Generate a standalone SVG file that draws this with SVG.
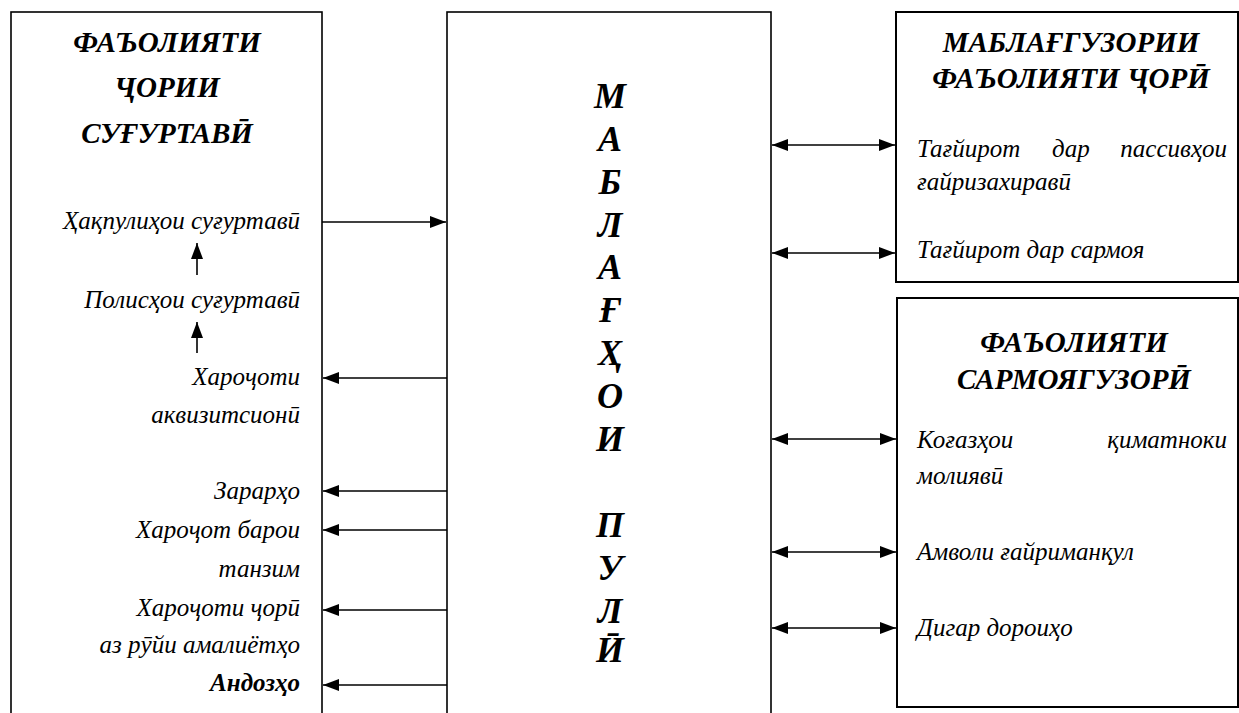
<svg xmlns="http://www.w3.org/2000/svg" width="1239" height="713" viewBox="0 0 1239 713">
<defs>
<marker id="ah" viewBox="0 0 16 12" refX="16" refY="6" markerWidth="16" markerHeight="12" markerUnits="userSpaceOnUse" orient="auto-start-reverse">
<path d="M0,0 L16,6 L0,12 Z" fill="#000"/>
</marker>
</defs>
<rect x="0" y="0" width="1239" height="713" fill="#fff"/>

<g id="node-left">
<rect x="11" y="12" width="311" height="740" fill="#fff" stroke="#000" stroke-width="1.6"/>
<text font-family="Liberation Serif" font-style="italic" font-weight="bold" font-size="29" text-anchor="middle" x="167" y="52">ФАЪОЛИЯТИ</text>
<text font-family="Liberation Serif" font-style="italic" font-weight="bold" font-size="29" text-anchor="middle" x="167" y="97">ҶОРИИ</text>
<text font-family="Liberation Serif" font-style="italic" font-weight="bold" font-size="29" text-anchor="middle" x="167" y="143">СУҒУРТАВӢ</text>
<text font-family="Liberation Serif" font-style="italic" font-size="25" text-anchor="end" x="300" y="229">Ҳақпулиҳои суғуртавӣ</text>
<text font-family="Liberation Serif" font-style="italic" font-size="25" text-anchor="end" x="300" y="308">Полисҳои суғуртавӣ</text>
<text font-family="Liberation Serif" font-style="italic" font-size="25" text-anchor="end" x="300" y="385">Хароҷоти</text>
<text font-family="Liberation Serif" font-style="italic" font-size="25" text-anchor="end" x="300" y="423">аквизитсионӣ</text>
<text font-family="Liberation Serif" font-style="italic" font-size="25" text-anchor="end" x="300" y="499">Зарарҳо</text>
<text font-family="Liberation Serif" font-style="italic" font-size="25" text-anchor="end" x="300" y="538">Хароҷот барои</text>
<text font-family="Liberation Serif" font-style="italic" font-size="25" text-anchor="end" x="300" y="577">танзим</text>
<text font-family="Liberation Serif" font-style="italic" font-size="25" text-anchor="end" x="300" y="616">Хароҷоти ҷорӣ</text>
<text font-family="Liberation Serif" font-style="italic" font-size="25" text-anchor="end" x="300" y="653">аз рӯйи амалиётҳо</text>
<text font-family="Liberation Serif" font-style="italic" font-weight="bold" font-size="25" text-anchor="end" x="300" y="691">Андозҳо</text>
</g>

<g id="node-middle">
<rect x="447" y="12" width="324" height="740" fill="#fff" stroke="#000" stroke-width="1.6"/>
<text font-family="Liberation Serif" font-style="italic" font-weight="bold" font-size="36" text-anchor="middle" x="610" y="108">М</text>
<text font-family="Liberation Serif" font-style="italic" font-weight="bold" font-size="36" text-anchor="middle" x="610" y="151">А</text>
<text font-family="Liberation Serif" font-style="italic" font-weight="bold" font-size="36" text-anchor="middle" x="610" y="194">Б</text>
<text font-family="Liberation Serif" font-style="italic" font-weight="bold" font-size="36" text-anchor="middle" x="610" y="237">Л</text>
<text font-family="Liberation Serif" font-style="italic" font-weight="bold" font-size="36" text-anchor="middle" x="610" y="279">А</text>
<text font-family="Liberation Serif" font-style="italic" font-weight="bold" font-size="36" text-anchor="middle" x="610" y="322">Ғ</text>
<text font-family="Liberation Serif" font-style="italic" font-weight="bold" font-size="36" text-anchor="middle" x="610" y="365">Ҳ</text>
<text font-family="Liberation Serif" font-style="italic" font-weight="bold" font-size="36" text-anchor="middle" x="610" y="408">О</text>
<text font-family="Liberation Serif" font-style="italic" font-weight="bold" font-size="36" text-anchor="middle" x="610" y="451">И</text>
<text font-family="Liberation Serif" font-style="italic" font-weight="bold" font-size="36" text-anchor="middle" x="610" y="537">П</text>
<text font-family="Liberation Serif" font-style="italic" font-weight="bold" font-size="36" text-anchor="middle" x="610" y="580">У</text>
<text font-family="Liberation Serif" font-style="italic" font-weight="bold" font-size="36" text-anchor="middle" x="610" y="623">Л</text>
<text font-family="Liberation Serif" font-style="italic" font-weight="bold" font-size="36" text-anchor="middle" x="610" y="662">Ӣ</text>
</g>

<g id="node-financing">
<rect x="896" y="12" width="342" height="270" fill="#fff" stroke="#000" stroke-width="2"/>
<text font-family="Liberation Serif" font-style="italic" font-weight="bold" font-size="29" text-anchor="middle" x="1071" y="52">МАБЛАҒГУЗОРИИ</text>
<text font-family="Liberation Serif" font-style="italic" font-weight="bold" font-size="29" text-anchor="middle" x="1071" y="88">ФАЪОЛИЯТИ ҶОРӢ</text>
<text font-family="Liberation Serif" font-style="italic" font-size="25" x="917" y="157">Тағйирот</text>
<text font-family="Liberation Serif" font-style="italic" font-size="25" x="1052" y="157">дар</text>
<text font-family="Liberation Serif" font-style="italic" font-size="25" text-anchor="end" x="1227" y="157">пассивҳои</text>
<text font-family="Liberation Serif" font-style="italic" font-size="25" x="917" y="190">ғайризахиравӣ</text>
<text font-family="Liberation Serif" font-style="italic" font-size="25" x="917" y="258">Тағйирот дар сармоя</text>
</g>

<g id="node-investment">
<rect x="897" y="298" width="341" height="409" fill="#fff" stroke="#000" stroke-width="2"/>
<text font-family="Liberation Serif" font-style="italic" font-weight="bold" font-size="29" text-anchor="middle" x="1074" y="352">ФАЪОЛИЯТИ</text>
<text font-family="Liberation Serif" font-style="italic" font-weight="bold" font-size="29" text-anchor="middle" x="1074" y="389">САРМОЯГУЗОРӢ</text>
<text font-family="Liberation Serif" font-style="italic" font-size="25" x="917" y="448">Коғазҳои</text>
<text font-family="Liberation Serif" font-style="italic" font-size="25" text-anchor="end" x="1227" y="448">қиматноки</text>
<text font-family="Liberation Serif" font-style="italic" font-size="25" x="917" y="484">молиявӣ</text>
<text font-family="Liberation Serif" font-style="italic" font-size="25" x="917" y="560">Амволи ғайриманқул</text>
<text font-family="Liberation Serif" font-style="italic" font-size="25" x="917" y="636">Дигар дороиҳо</text>
</g>

<g id="connectors" stroke="#000" stroke-width="1.6" fill="none">
<line x1="322" y1="222" x2="446" y2="222" marker-end="url(#ah)"/>
<line x1="197" y1="275" x2="197" y2="243" marker-end="url(#ah)"/>
<line x1="197" y1="353" x2="197" y2="322" marker-end="url(#ah)"/>
<line x1="447" y1="378" x2="323" y2="378" marker-end="url(#ah)"/>
<line x1="447" y1="491" x2="323" y2="491" marker-end="url(#ah)"/>
<line x1="447" y1="530" x2="323" y2="530" marker-end="url(#ah)"/>
<line x1="447" y1="610" x2="323" y2="610" marker-end="url(#ah)"/>
<line x1="447" y1="685" x2="323" y2="685" marker-end="url(#ah)"/>
<line x1="772" y1="145" x2="895" y2="145" marker-start="url(#ah)" marker-end="url(#ah)"/>
<line x1="772" y1="253" x2="895" y2="253" marker-start="url(#ah)" marker-end="url(#ah)"/>
<line x1="772" y1="439" x2="896" y2="439" marker-start="url(#ah)" marker-end="url(#ah)"/>
<line x1="772" y1="552" x2="896" y2="552" marker-start="url(#ah)" marker-end="url(#ah)"/>
<line x1="772" y1="628" x2="896" y2="628" marker-start="url(#ah)" marker-end="url(#ah)"/>
</g>
</svg>
